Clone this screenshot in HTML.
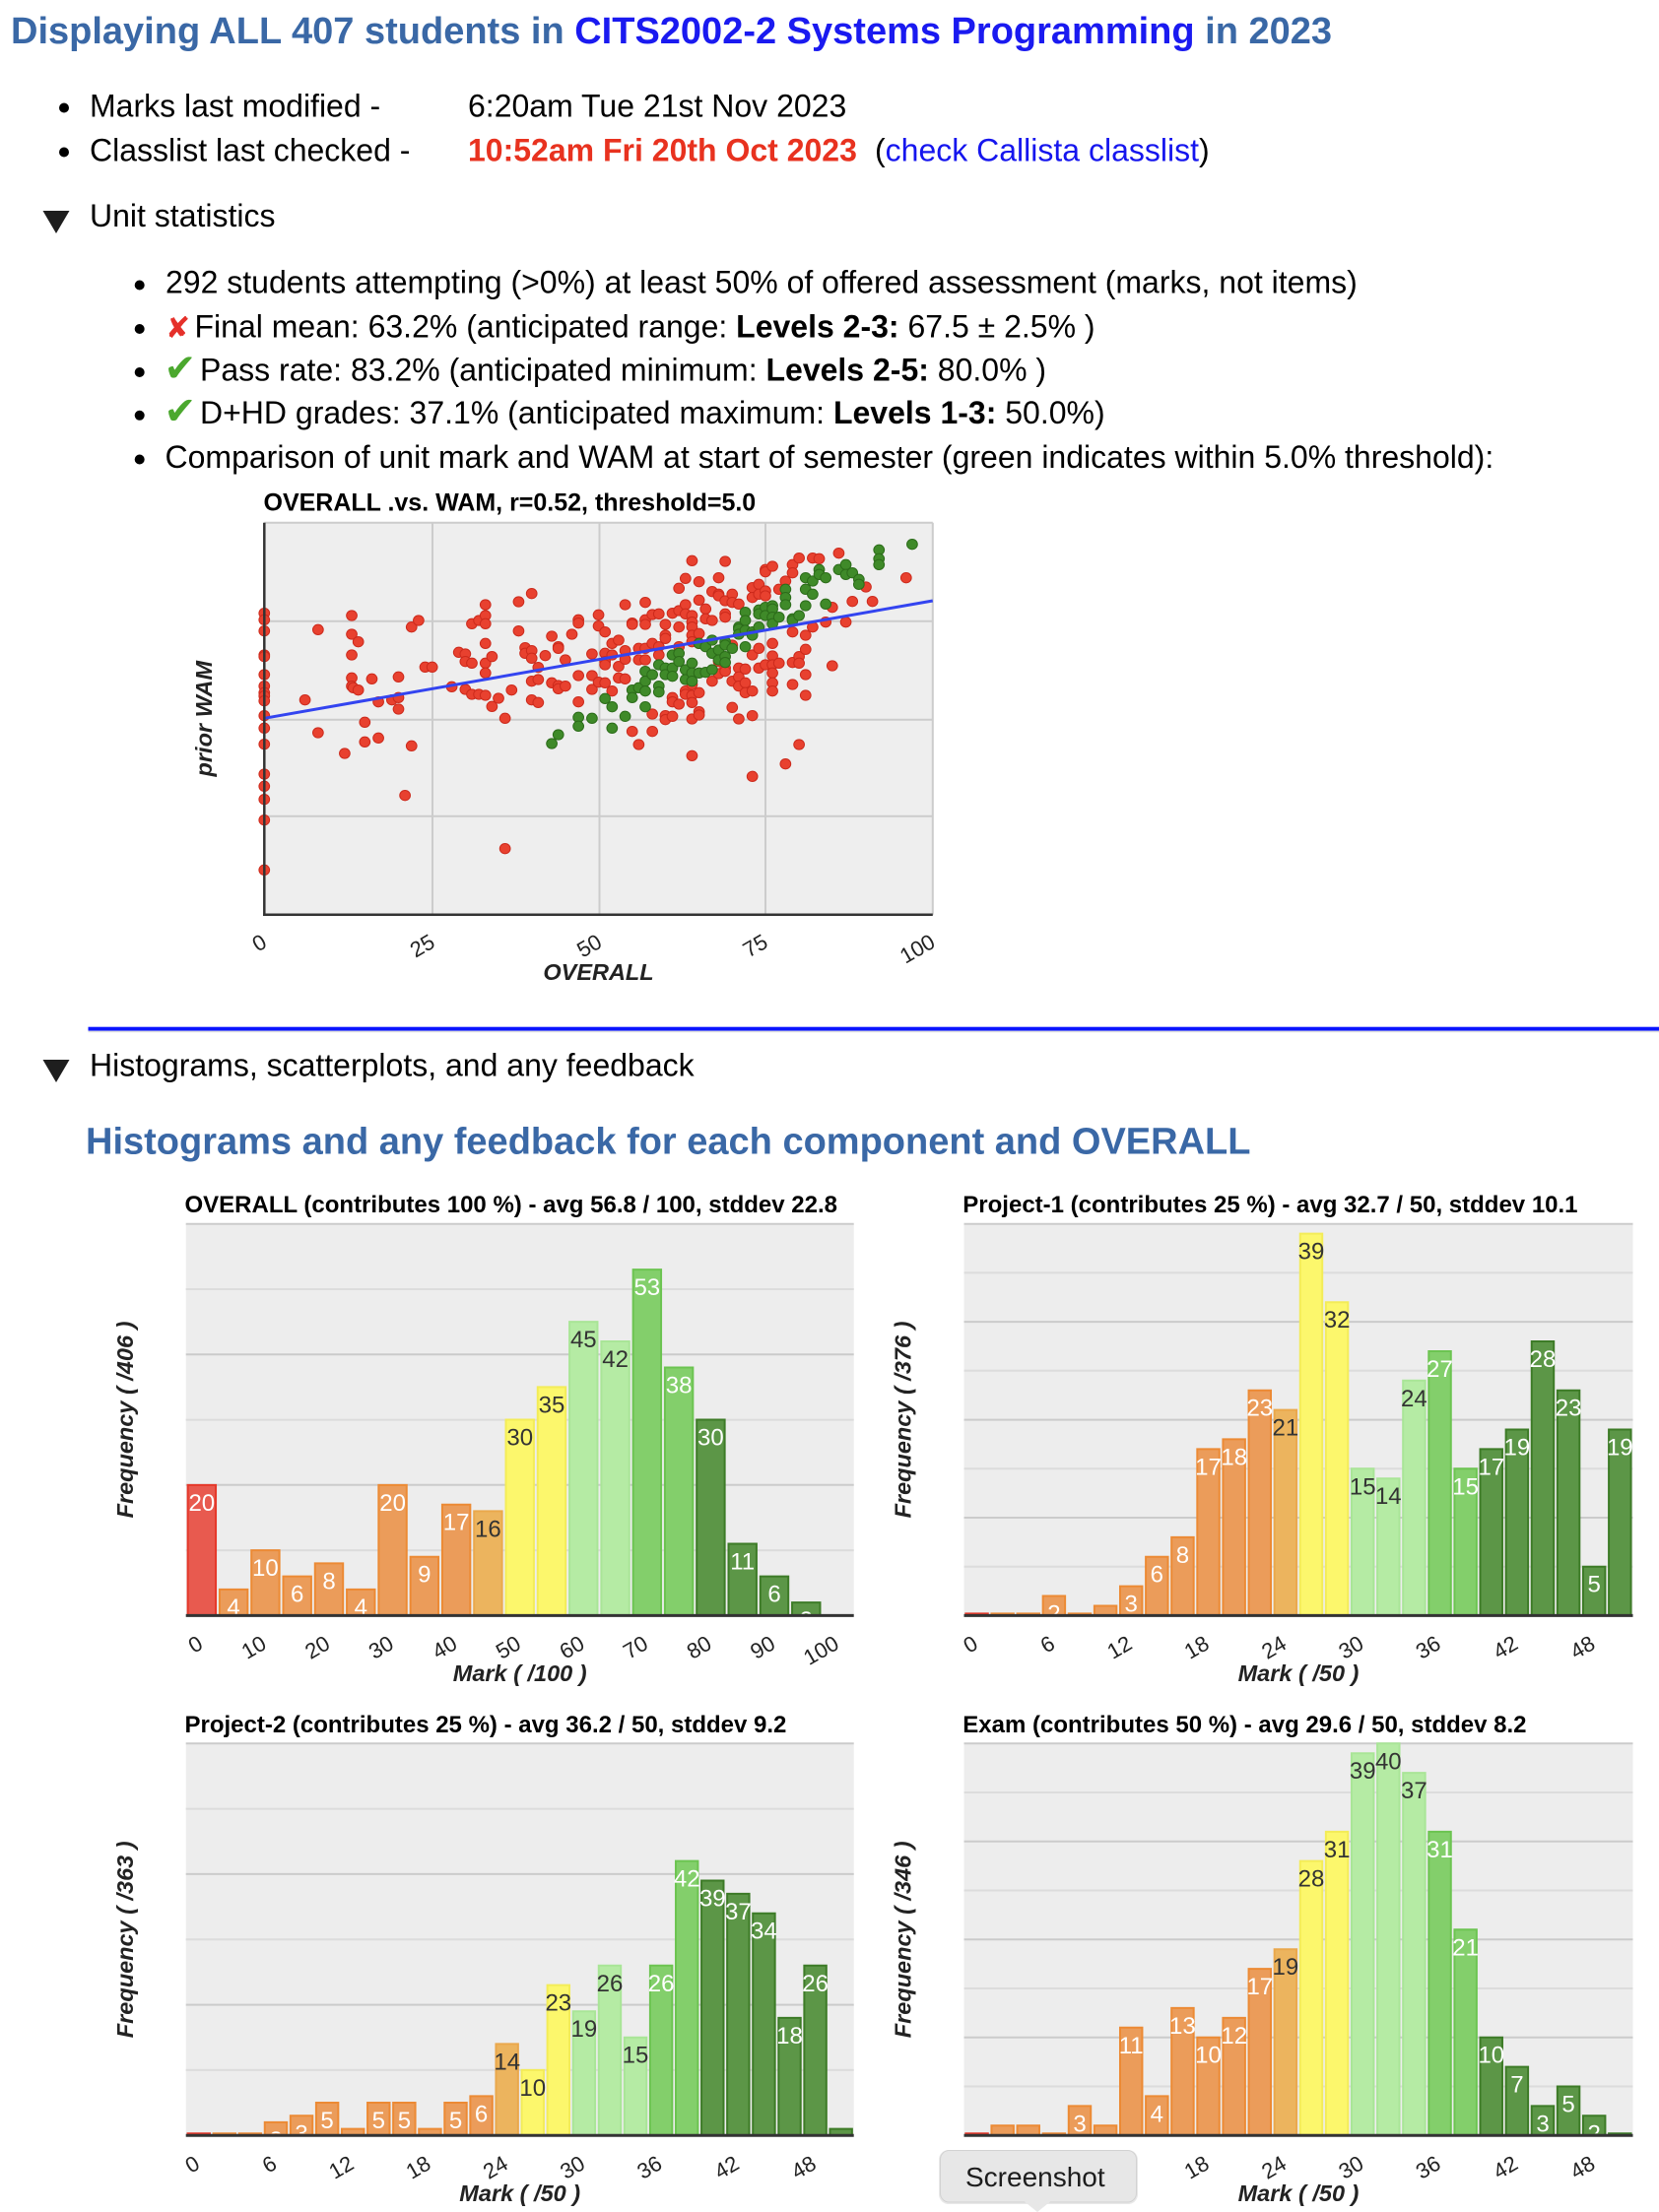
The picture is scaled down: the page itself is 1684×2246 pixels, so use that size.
<!DOCTYPE html>
<html>
<head>
<meta charset="utf-8">
<style>
html,body{margin:0;padding:0;background:#fff;}
svg{display:block;}
text{font-family:"Liberation Sans",Arial,Helvetica,sans-serif;}
.b{vector-effect:non-scaling-stroke;stroke-width:2;}
.bR{fill:#e85a4f;stroke:#e5382a;}
.bO{fill:#eb9c5a;stroke:#ec8a34;}
.bT{fill:#ecb45e;stroke:#eaa84c;}
.bY{fill:#fcf76c;stroke:#f3ec58;}
.bL{fill:#b5eba4;stroke:#a9e597;}
.bM{fill:#83cf6b;stroke:#6cc451;}
.bD{fill:#5c9647;stroke:#3d7b27;}
.lw{fill:#fff;font-size:24px;text-anchor:middle;}
.ld{fill:#333;font-size:24px;text-anchor:middle;}
.tk{fill:#222;font-size:22px;text-anchor:end;}
.ax{fill:#222;font-size:23.5px;font-weight:bold;font-style:italic;text-anchor:middle;}
.ct{fill:#000;font-size:24px;font-weight:bold;}
.gM{stroke:#cbcbcb;stroke-width:2;}
.gm{stroke:#dcdcdc;stroke-width:2;}
.r{fill:#e8412f;stroke:#cc2a1c;stroke-width:1;vector-effect:non-scaling-stroke;}
.g{fill:#3f8a29;stroke:#2c6c1a;stroke-width:1;vector-effect:non-scaling-stroke;}
.body{font-size:32px;fill:#000;}
.ico{font-family:"DejaVu Sans",sans-serif;}
</style>
</head>
<body>
<svg width="1684" height="2246" viewBox="0 0 1684 2246" xmlns="http://www.w3.org/2000/svg">
<defs>
<clipPath id="c1"><rect x="188.7" y="1242.7" width="678" height="396"/></clipPath>
<clipPath id="c2"><rect x="978.5" y="1242.7" width="679" height="396"/></clipPath>
<clipPath id="c3"><rect x="188.7" y="1770.3" width="678" height="396"/></clipPath>
<clipPath id="c4"><rect x="978.5" y="1770.3" width="679" height="396"/></clipPath>
</defs>

<!-- Title -->
<text x="11" y="44" style="font-size:38px;font-weight:bold;fill:#3a68a6">Displaying ALL 407 students in <tspan fill="#1a1af0">CITS2002-2 Systems Programming</tspan> in 2023</text>

<!-- bullets -->
<circle cx="65" cy="109.5" r="5" fill="#000"/>
<circle cx="65" cy="154.5" r="5" fill="#000"/>
<text class="body" x="91" y="118.3">Marks last modified -</text>
<text class="body" x="475" y="118.3">6:20am Tue 21st Nov 2023</text>
<text class="body" x="91" y="163.3">Classlist last checked -</text>
<text class="body" x="475" y="163.3" style="font-weight:bold;fill:#e8321f">10:52am Fri 20th Oct 2023</text>
<text class="body" x="888" y="163.3">(<tspan fill="#1515ee">check Callista classlist</tspan>)</text>

<polygon points="43.5,214 70.5,214 57,237" fill="#1e1e1e"/>
<text class="body" x="91" y="230">Unit statistics</text>

<circle cx="141.7" cy="289.5" r="5" fill="#000"/>
<circle cx="141.7" cy="334" r="5" fill="#000"/>
<circle cx="141.7" cy="378" r="5" fill="#000"/>
<circle cx="141.7" cy="421.8" r="5" fill="#000"/>
<circle cx="141.7" cy="466.5" r="5" fill="#000"/>
<text class="body" x="168" y="297.7">292 students attempting (&gt;0%) at least 50% of offered assessment (marks, not items)</text>
<text class="ico" x="168" y="343" fill="#e5302a" style="font-size:30px">✘</text>
<text class="body" x="197.5" y="342.7">Final mean: 63.2% (anticipated range: <tspan font-weight="bold">Levels 2-3:</tspan> 67.5 ± 2.5% )</text>
<text class="ico" x="166.5" y="387" fill="#4ba82e" style="font-size:39px">✔</text>
<text class="body" x="203" y="386.7">Pass rate: 83.2% (anticipated minimum: <tspan font-weight="bold">Levels 2-5:</tspan> 80.0% )</text>
<text class="ico" x="166.5" y="430.3" fill="#4ba82e" style="font-size:39px">✔</text>
<text class="body" x="203" y="430">D+HD grades: 37.1% (anticipated maximum: <tspan font-weight="bold">Levels 1-3:</tspan> 50.0%)</text>
<text class="body" x="167.5" y="475">Comparison of unit mark and WAM at start of semester (green indicates within 5.0% threshold):</text>

<!-- Scatter -->
<text x="267.5" y="518.5" style="font-size:25px;font-weight:bold;fill:#000">OVERALL .vs. WAM, r=0.52, threshold=5.0</text>
<rect x="268.3" y="530.7" width="678.5" height="398" fill="#eeeeee"/>
<g stroke="#cccccc" stroke-width="2">
<line x1="268.3" y1="530.7" x2="946.8" y2="530.7"/>
<line x1="268.3" y1="630.7" x2="946.8" y2="630.7"/>
<line x1="268.3" y1="730.7" x2="946.8" y2="730.7"/>
<line x1="268.3" y1="828.7" x2="946.8" y2="828.7"/>
<line x1="439" y1="530.7" x2="439" y2="928.7"/>
<line x1="608.5" y1="530.7" x2="608.5" y2="928.7"/>
<line x1="777" y1="530.7" x2="777" y2="928.7"/>
<line x1="946.8" y1="530.7" x2="946.8" y2="928.7"/>
</g>
<svg x="180" y="490" width="800" height="520" viewBox="0 0 1568 1560" preserveAspectRatio="none" overflow="visible">
<g>
<ellipse class="r" cx="173" cy="398" rx="10.5" ry="15.5"/><ellipse class="r" cx="173" cy="418" rx="10.5" ry="15.5"/><ellipse class="r" cx="173" cy="452" rx="10.5" ry="15.5"/><ellipse class="r" cx="173" cy="525" rx="10.5" ry="15.5"/><ellipse class="r" cx="173" cy="530" rx="10.5" ry="15.5"/><ellipse class="r" cx="173" cy="585" rx="10.5" ry="15.5"/><ellipse class="r" cx="173" cy="620" rx="10.5" ry="15.5"/><ellipse class="r" cx="173" cy="640" rx="10.5" ry="15.5"/><ellipse class="r" cx="173" cy="650" rx="10.5" ry="15.5"/><ellipse class="r" cx="173" cy="665" rx="10.5" ry="15.5"/><ellipse class="r" cx="173" cy="710" rx="10.5" ry="15.5"/><ellipse class="r" cx="173" cy="748" rx="10.5" ry="15.5"/><ellipse class="r" cx="173" cy="797" rx="10.5" ry="15.5"/><ellipse class="r" cx="173" cy="888" rx="10.5" ry="15.5"/><ellipse class="r" cx="173" cy="925" rx="10.5" ry="15.5"/><ellipse class="r" cx="173" cy="965" rx="10.5" ry="15.5"/><ellipse class="r" cx="173" cy="1028" rx="10.5" ry="15.5"/><ellipse class="r" cx="173" cy="1180" rx="10.5" ry="15.5"/>
<ellipse class="r" cx="254" cy="662" rx="10.5" ry="15.5"/><ellipse class="r" cx="280" cy="448" rx="10.5" ry="15.5"/><ellipse class="r" cx="280" cy="762" rx="10.5" ry="15.5"/><ellipse class="r" cx="333" cy="825" rx="10.5" ry="15.5"/>
<ellipse class="r" cx="347" cy="405" rx="10.5" ry="15.5"/><ellipse class="r" cx="347" cy="462" rx="10.5" ry="15.5"/><ellipse class="r" cx="347" cy="525" rx="10.5" ry="15.5"/><ellipse class="r" cx="347" cy="595" rx="10.5" ry="15.5"/><ellipse class="r" cx="347" cy="620" rx="10.5" ry="15.5"/><ellipse class="r" cx="350" cy="625" rx="10.5" ry="15.5"/>
<ellipse class="r" cx="360" cy="485" rx="10.5" ry="15.5"/><ellipse class="r" cx="360" cy="632" rx="10.5" ry="15.5"/><ellipse class="r" cx="373" cy="730" rx="10.5" ry="15.5"/><ellipse class="r" cx="373" cy="790" rx="10.5" ry="15.5"/><ellipse class="r" cx="387" cy="598" rx="10.5" ry="15.5"/><ellipse class="r" cx="400" cy="668" rx="10.5" ry="15.5"/><ellipse class="r" cx="400" cy="778" rx="10.5" ry="15.5"/><ellipse class="r" cx="427" cy="662" rx="10.5" ry="15.5"/>
<ellipse class="r" cx="440" cy="592" rx="10.5" ry="15.5"/><ellipse class="r" cx="440" cy="655" rx="10.5" ry="15.5"/><ellipse class="r" cx="440" cy="690" rx="10.5" ry="15.5"/><ellipse class="r" cx="453" cy="953" rx="10.5" ry="15.5"/><ellipse class="r" cx="466" cy="440" rx="10.5" ry="15.5"/><ellipse class="r" cx="466" cy="802" rx="10.5" ry="15.5"/><ellipse class="r" cx="480" cy="420" rx="10.5" ry="15.5"/><ellipse class="r" cx="493" cy="562" rx="10.5" ry="15.5"/><ellipse class="r" cx="507" cy="562" rx="10.5" ry="15.5"/>
<ellipse class="r" cx="546" cy="622" rx="10.5" ry="15.5"/><ellipse class="r" cx="560" cy="517" rx="10.5" ry="15.5"/><ellipse class="r" cx="573" cy="522" rx="10.5" ry="15.5"/><ellipse class="r" cx="573" cy="545" rx="10.5" ry="15.5"/><ellipse class="r" cx="573" cy="630" rx="10.5" ry="15.5"/><ellipse class="r" cx="586" cy="430" rx="10.5" ry="15.5"/><ellipse class="r" cx="586" cy="550" rx="10.5" ry="15.5"/><ellipse class="r" cx="586" cy="645" rx="10.5" ry="15.5"/><ellipse class="r" cx="600" cy="420" rx="10.5" ry="15.5"/><ellipse class="r" cx="600" cy="645" rx="10.5" ry="15.5"/>
<ellipse class="r" cx="613" cy="372" rx="10.5" ry="15.5"/><ellipse class="r" cx="613" cy="405" rx="10.5" ry="15.5"/><ellipse class="r" cx="613" cy="430" rx="10.5" ry="15.5"/><ellipse class="r" cx="613" cy="490" rx="10.5" ry="15.5"/><ellipse class="r" cx="613" cy="550" rx="10.5" ry="15.5"/><ellipse class="r" cx="613" cy="580" rx="10.5" ry="15.5"/><ellipse class="r" cx="613" cy="648" rx="10.5" ry="15.5"/>
<ellipse class="r" cx="626" cy="530" rx="10.5" ry="15.5"/><ellipse class="r" cx="626" cy="682" rx="10.5" ry="15.5"/><ellipse class="r" cx="639" cy="657" rx="10.5" ry="15.5"/><ellipse class="r" cx="652" cy="718" rx="10.5" ry="15.5"/><ellipse class="r" cx="652" cy="1115" rx="10.5" ry="15.5"/><ellipse class="r" cx="665" cy="632" rx="10.5" ry="15.5"/><ellipse class="r" cx="679" cy="363" rx="10.5" ry="15.5"/><ellipse class="r" cx="679" cy="452" rx="10.5" ry="15.5"/>
<ellipse class="r" cx="692" cy="503" rx="10.5" ry="15.5"/><ellipse class="r" cx="692" cy="520" rx="10.5" ry="15.5"/><ellipse class="r" cx="705" cy="338" rx="10.5" ry="15.5"/><ellipse class="r" cx="705" cy="512" rx="10.5" ry="15.5"/><ellipse class="r" cx="705" cy="535" rx="10.5" ry="15.5"/><ellipse class="r" cx="705" cy="605" rx="10.5" ry="15.5"/><ellipse class="r" cx="705" cy="662" rx="10.5" ry="15.5"/>
<ellipse class="r" cx="718" cy="563" rx="10.5" ry="15.5"/><ellipse class="r" cx="718" cy="600" rx="10.5" ry="15.5"/><ellipse class="r" cx="718" cy="670" rx="10.5" ry="15.5"/><ellipse class="r" cx="732" cy="527" rx="10.5" ry="15.5"/><ellipse class="r" cx="745" cy="468" rx="10.5" ry="15.5"/><ellipse class="r" cx="745" cy="610" rx="10.5" ry="15.5"/>
<ellipse class="r" cx="758" cy="500" rx="10.5" ry="15.5"/><ellipse class="r" cx="758" cy="505" rx="10.5" ry="15.5"/><ellipse class="r" cx="758" cy="618" rx="10.5" ry="15.5"/><ellipse class="r" cx="758" cy="628" rx="10.5" ry="15.5"/><ellipse class="r" cx="772" cy="540" rx="10.5" ry="15.5"/><ellipse class="r" cx="772" cy="620" rx="10.5" ry="15.5"/><ellipse class="r" cx="785" cy="462" rx="10.5" ry="15.5"/>
<ellipse class="r" cx="798" cy="418" rx="10.5" ry="15.5"/><ellipse class="r" cx="798" cy="428" rx="10.5" ry="15.5"/><ellipse class="r" cx="798" cy="588" rx="10.5" ry="15.5"/><ellipse class="r" cx="798" cy="668" rx="10.5" ry="15.5"/>
<ellipse class="r" cx="825" cy="522" rx="10.5" ry="15.5"/><ellipse class="r" cx="825" cy="588" rx="10.5" ry="15.5"/><ellipse class="r" cx="825" cy="630" rx="10.5" ry="15.5"/><ellipse class="r" cx="838" cy="403" rx="10.5" ry="15.5"/><ellipse class="r" cx="838" cy="437" rx="10.5" ry="15.5"/><ellipse class="r" cx="838" cy="608" rx="10.5" ry="15.5"/>
<ellipse class="r" cx="851" cy="455" rx="10.5" ry="15.5"/><ellipse class="r" cx="851" cy="520" rx="10.5" ry="15.5"/><ellipse class="r" cx="851" cy="545" rx="10.5" ry="15.5"/><ellipse class="r" cx="851" cy="555" rx="10.5" ry="15.5"/><ellipse class="r" cx="851" cy="610" rx="10.5" ry="15.5"/>
<ellipse class="r" cx="865" cy="490" rx="10.5" ry="15.5"/><ellipse class="r" cx="865" cy="525" rx="10.5" ry="15.5"/><ellipse class="r" cx="865" cy="635" rx="10.5" ry="15.5"/><ellipse class="r" cx="878" cy="480" rx="10.5" ry="15.5"/><ellipse class="r" cx="878" cy="560" rx="10.5" ry="15.5"/><ellipse class="r" cx="878" cy="595" rx="10.5" ry="15.5"/>
<ellipse class="r" cx="891" cy="372" rx="10.5" ry="15.5"/><ellipse class="r" cx="891" cy="512" rx="10.5" ry="15.5"/><ellipse class="r" cx="891" cy="538" rx="10.5" ry="15.5"/><ellipse class="r" cx="891" cy="598" rx="10.5" ry="15.5"/>
<ellipse class="r" cx="905" cy="428" rx="10.5" ry="15.5"/><ellipse class="r" cx="905" cy="432" rx="10.5" ry="15.5"/><ellipse class="r" cx="905" cy="758" rx="10.5" ry="15.5"/><ellipse class="r" cx="918" cy="505" rx="10.5" ry="15.5"/><ellipse class="r" cx="918" cy="540" rx="10.5" ry="15.5"/><ellipse class="r" cx="918" cy="798" rx="10.5" ry="15.5"/>
<ellipse class="r" cx="931" cy="365" rx="10.5" ry="15.5"/><ellipse class="r" cx="931" cy="418" rx="10.5" ry="15.5"/><ellipse class="r" cx="931" cy="432" rx="10.5" ry="15.5"/><ellipse class="r" cx="931" cy="505" rx="10.5" ry="15.5"/><ellipse class="r" cx="931" cy="540" rx="10.5" ry="15.5"/>
<ellipse class="r" cx="945" cy="402" rx="10.5" ry="15.5"/><ellipse class="r" cx="945" cy="490" rx="10.5" ry="15.5"/><ellipse class="r" cx="945" cy="705" rx="10.5" ry="15.5"/><ellipse class="r" cx="945" cy="758" rx="10.5" ry="15.5"/>
<ellipse class="r" cx="958" cy="400" rx="10.5" ry="15.5"/><ellipse class="r" cx="958" cy="500" rx="10.5" ry="15.5"/><ellipse class="r" cx="958" cy="525" rx="10.5" ry="15.5"/>
<ellipse class="r" cx="971" cy="432" rx="10.5" ry="15.5"/><ellipse class="r" cx="971" cy="465" rx="10.5" ry="15.5"/><ellipse class="r" cx="971" cy="475" rx="10.5" ry="15.5"/><ellipse class="r" cx="971" cy="710" rx="10.5" ry="15.5"/><ellipse class="r" cx="971" cy="722" rx="10.5" ry="15.5"/>
<ellipse class="r" cx="985" cy="398" rx="10.5" ry="15.5"/><ellipse class="r" cx="985" cy="655" rx="10.5" ry="15.5"/><ellipse class="r" cx="985" cy="668" rx="10.5" ry="15.5"/><ellipse class="r" cx="985" cy="712" rx="10.5" ry="15.5"/>
<ellipse class="r" cx="998" cy="322" rx="10.5" ry="15.5"/><ellipse class="r" cx="998" cy="390" rx="10.5" ry="15.5"/><ellipse class="r" cx="998" cy="440" rx="10.5" ry="15.5"/><ellipse class="r" cx="998" cy="500" rx="10.5" ry="15.5"/><ellipse class="r" cx="998" cy="675" rx="10.5" ry="15.5"/>
<ellipse class="r" cx="1011" cy="292" rx="10.5" ry="15.5"/><ellipse class="r" cx="1011" cy="372" rx="10.5" ry="15.5"/><ellipse class="r" cx="1011" cy="400" rx="10.5" ry="15.5"/><ellipse class="r" cx="1011" cy="635" rx="10.5" ry="15.5"/><ellipse class="r" cx="1011" cy="645" rx="10.5" ry="15.5"/>
<ellipse class="r" cx="1024" cy="238" rx="10.5" ry="15.5"/><ellipse class="r" cx="1024" cy="405" rx="10.5" ry="15.5"/><ellipse class="r" cx="1024" cy="425" rx="10.5" ry="15.5"/><ellipse class="r" cx="1024" cy="440" rx="10.5" ry="15.5"/><ellipse class="r" cx="1024" cy="465" rx="10.5" ry="15.5"/><ellipse class="r" cx="1024" cy="485" rx="10.5" ry="15.5"/><ellipse class="r" cx="1024" cy="615" rx="10.5" ry="15.5"/><ellipse class="r" cx="1024" cy="648" rx="10.5" ry="15.5"/><ellipse class="r" cx="1024" cy="670" rx="10.5" ry="15.5"/><ellipse class="r" cx="1024" cy="720" rx="10.5" ry="15.5"/><ellipse class="r" cx="1024" cy="832" rx="10.5" ry="15.5"/>
<ellipse class="r" cx="1038" cy="302" rx="10.5" ry="15.5"/><ellipse class="r" cx="1038" cy="358" rx="10.5" ry="15.5"/><ellipse class="r" cx="1038" cy="460" rx="10.5" ry="15.5"/><ellipse class="r" cx="1038" cy="490" rx="10.5" ry="15.5"/><ellipse class="r" cx="1038" cy="640" rx="10.5" ry="15.5"/><ellipse class="r" cx="1038" cy="698" rx="10.5" ry="15.5"/><ellipse class="r" cx="1038" cy="708" rx="10.5" ry="15.5"/>
<ellipse class="r" cx="1051" cy="385" rx="10.5" ry="15.5"/><ellipse class="r" cx="1051" cy="415" rx="10.5" ry="15.5"/><ellipse class="r" cx="1064" cy="332" rx="10.5" ry="15.5"/><ellipse class="r" cx="1064" cy="420" rx="10.5" ry="15.5"/><ellipse class="r" cx="1064" cy="605" rx="10.5" ry="15.5"/>
<ellipse class="r" cx="1077" cy="290" rx="10.5" ry="15.5"/><ellipse class="r" cx="1077" cy="340" rx="10.5" ry="15.5"/><ellipse class="r" cx="1077" cy="345" rx="10.5" ry="15.5"/><ellipse class="r" cx="1077" cy="545" rx="10.5" ry="15.5"/><ellipse class="r" cx="1077" cy="582" rx="10.5" ry="15.5"/>
<ellipse class="r" cx="1090" cy="240" rx="10.5" ry="15.5"/><ellipse class="r" cx="1090" cy="360" rx="10.5" ry="15.5"/><ellipse class="r" cx="1090" cy="400" rx="10.5" ry="15.5"/><ellipse class="r" cx="1090" cy="410" rx="10.5" ry="15.5"/><ellipse class="r" cx="1090" cy="565" rx="10.5" ry="15.5"/><ellipse class="r" cx="1090" cy="575" rx="10.5" ry="15.5"/>
<ellipse class="r" cx="1104" cy="340" rx="10.5" ry="15.5"/><ellipse class="r" cx="1104" cy="365" rx="10.5" ry="15.5"/><ellipse class="r" cx="1104" cy="495" rx="10.5" ry="15.5"/><ellipse class="r" cx="1104" cy="605" rx="10.5" ry="15.5"/><ellipse class="r" cx="1104" cy="685" rx="10.5" ry="15.5"/>
<ellipse class="r" cx="1117" cy="370" rx="10.5" ry="15.5"/><ellipse class="r" cx="1117" cy="565" rx="10.5" ry="15.5"/><ellipse class="r" cx="1117" cy="592" rx="10.5" ry="15.5"/><ellipse class="r" cx="1117" cy="620" rx="10.5" ry="15.5"/><ellipse class="r" cx="1117" cy="720" rx="10.5" ry="15.5"/>
<ellipse class="r" cx="1130" cy="568" rx="10.5" ry="15.5"/><ellipse class="r" cx="1130" cy="610" rx="10.5" ry="15.5"/><ellipse class="r" cx="1130" cy="640" rx="10.5" ry="15.5"/>
<ellipse class="r" cx="1144" cy="320" rx="10.5" ry="15.5"/><ellipse class="r" cx="1144" cy="350" rx="10.5" ry="15.5"/><ellipse class="r" cx="1144" cy="525" rx="10.5" ry="15.5"/><ellipse class="r" cx="1144" cy="635" rx="10.5" ry="15.5"/><ellipse class="r" cx="1144" cy="710" rx="10.5" ry="15.5"/><ellipse class="r" cx="1144" cy="895" rx="10.5" ry="15.5"/>
<ellipse class="r" cx="1157" cy="310" rx="10.5" ry="15.5"/><ellipse class="r" cx="1157" cy="340" rx="10.5" ry="15.5"/><ellipse class="r" cx="1157" cy="505" rx="10.5" ry="15.5"/><ellipse class="r" cx="1157" cy="565" rx="10.5" ry="15.5"/>
<ellipse class="r" cx="1170" cy="265" rx="10.5" ry="15.5"/><ellipse class="r" cx="1170" cy="272" rx="10.5" ry="15.5"/><ellipse class="r" cx="1170" cy="330" rx="10.5" ry="15.5"/><ellipse class="r" cx="1170" cy="345" rx="10.5" ry="15.5"/><ellipse class="r" cx="1170" cy="555" rx="10.5" ry="15.5"/>
<ellipse class="r" cx="1184" cy="255" rx="10.5" ry="15.5"/><ellipse class="r" cx="1184" cy="490" rx="10.5" ry="15.5"/><ellipse class="r" cx="1184" cy="528" rx="10.5" ry="15.5"/><ellipse class="r" cx="1184" cy="555" rx="10.5" ry="15.5"/><ellipse class="r" cx="1184" cy="580" rx="10.5" ry="15.5"/><ellipse class="r" cx="1184" cy="610" rx="10.5" ry="15.5"/><ellipse class="r" cx="1184" cy="635" rx="10.5" ry="15.5"/>
<ellipse class="r" cx="1197" cy="325" rx="10.5" ry="15.5"/><ellipse class="r" cx="1197" cy="550" rx="10.5" ry="15.5"/><ellipse class="r" cx="1210" cy="300" rx="10.5" ry="15.5"/><ellipse class="r" cx="1210" cy="857" rx="10.5" ry="15.5"/>
<ellipse class="r" cx="1224" cy="250" rx="10.5" ry="15.5"/><ellipse class="r" cx="1224" cy="275" rx="10.5" ry="15.5"/><ellipse class="r" cx="1224" cy="455" rx="10.5" ry="15.5"/><ellipse class="r" cx="1224" cy="548" rx="10.5" ry="15.5"/><ellipse class="r" cx="1224" cy="615" rx="10.5" ry="15.5"/>
<ellipse class="r" cx="1237" cy="230" rx="10.5" ry="15.5"/><ellipse class="r" cx="1237" cy="530" rx="10.5" ry="15.5"/><ellipse class="r" cx="1237" cy="550" rx="10.5" ry="15.5"/><ellipse class="r" cx="1237" cy="798" rx="10.5" ry="15.5"/>
<ellipse class="r" cx="1250" cy="465" rx="10.5" ry="15.5"/><ellipse class="r" cx="1250" cy="508" rx="10.5" ry="15.5"/><ellipse class="r" cx="1250" cy="585" rx="10.5" ry="15.5"/><ellipse class="r" cx="1250" cy="648" rx="10.5" ry="15.5"/>
<ellipse class="r" cx="1264" cy="230" rx="10.5" ry="15.5"/><ellipse class="r" cx="1264" cy="440" rx="10.5" ry="15.5"/><ellipse class="r" cx="1277" cy="232" rx="10.5" ry="15.5"/><ellipse class="r" cx="1290" cy="425" rx="10.5" ry="15.5"/><ellipse class="r" cx="1303" cy="380" rx="10.5" ry="15.5"/><ellipse class="r" cx="1303" cy="558" rx="10.5" ry="15.5"/><ellipse class="r" cx="1316" cy="215" rx="10.5" ry="15.5"/><ellipse class="r" cx="1330" cy="425" rx="10.5" ry="15.5"/><ellipse class="r" cx="1343" cy="362" rx="10.5" ry="15.5"/><ellipse class="r" cx="1370" cy="318" rx="10.5" ry="15.5"/><ellipse class="r" cx="1383" cy="362" rx="10.5" ry="15.5"/><ellipse class="r" cx="1450" cy="290" rx="10.5" ry="15.5"/>
</g>
<g>
<ellipse class="g" cx="745" cy="795" rx="10.5" ry="15.5"/><ellipse class="g" cx="758" cy="768" rx="10.5" ry="15.5"/><ellipse class="g" cx="798" cy="715" rx="10.5" ry="15.5"/><ellipse class="g" cx="798" cy="742" rx="10.5" ry="15.5"/><ellipse class="g" cx="825" cy="718" rx="10.5" ry="15.5"/><ellipse class="g" cx="851" cy="658" rx="10.5" ry="15.5"/><ellipse class="g" cx="865" cy="683" rx="10.5" ry="15.5"/><ellipse class="g" cx="865" cy="748" rx="10.5" ry="15.5"/><ellipse class="g" cx="891" cy="712" rx="10.5" ry="15.5"/>
<ellipse class="g" cx="905" cy="632" rx="10.5" ry="15.5"/><ellipse class="g" cx="905" cy="655" rx="10.5" ry="15.5"/><ellipse class="g" cx="918" cy="625" rx="10.5" ry="15.5"/><ellipse class="g" cx="931" cy="575" rx="10.5" ry="15.5"/><ellipse class="g" cx="931" cy="605" rx="10.5" ry="15.5"/><ellipse class="g" cx="931" cy="635" rx="10.5" ry="15.5"/><ellipse class="g" cx="931" cy="683" rx="10.5" ry="15.5"/><ellipse class="g" cx="945" cy="585" rx="10.5" ry="15.5"/>
<ellipse class="g" cx="958" cy="555" rx="10.5" ry="15.5"/><ellipse class="g" cx="958" cy="620" rx="10.5" ry="15.5"/><ellipse class="g" cx="958" cy="638" rx="10.5" ry="15.5"/><ellipse class="g" cx="971" cy="565" rx="10.5" ry="15.5"/><ellipse class="g" cx="971" cy="585" rx="10.5" ry="15.5"/><ellipse class="g" cx="985" cy="525" rx="10.5" ry="15.5"/><ellipse class="g" cx="985" cy="565" rx="10.5" ry="15.5"/><ellipse class="g" cx="985" cy="590" rx="10.5" ry="15.5"/>
<ellipse class="g" cx="998" cy="520" rx="10.5" ry="15.5"/><ellipse class="g" cx="998" cy="545" rx="10.5" ry="15.5"/><ellipse class="g" cx="1011" cy="570" rx="10.5" ry="15.5"/><ellipse class="g" cx="1011" cy="600" rx="10.5" ry="15.5"/><ellipse class="g" cx="1024" cy="550" rx="10.5" ry="15.5"/><ellipse class="g" cx="1024" cy="580" rx="10.5" ry="15.5"/><ellipse class="g" cx="1024" cy="605" rx="10.5" ry="15.5"/>
<ellipse class="g" cx="1038" cy="490" rx="10.5" ry="15.5"/><ellipse class="g" cx="1038" cy="580" rx="10.5" ry="15.5"/><ellipse class="g" cx="1051" cy="500" rx="10.5" ry="15.5"/><ellipse class="g" cx="1051" cy="578" rx="10.5" ry="15.5"/><ellipse class="g" cx="1064" cy="480" rx="10.5" ry="15.5"/><ellipse class="g" cx="1064" cy="520" rx="10.5" ry="15.5"/><ellipse class="g" cx="1064" cy="570" rx="10.5" ry="15.5"/>
<ellipse class="g" cx="1077" cy="510" rx="10.5" ry="15.5"/><ellipse class="g" cx="1077" cy="540" rx="10.5" ry="15.5"/><ellipse class="g" cx="1090" cy="485" rx="10.5" ry="15.5"/><ellipse class="g" cx="1090" cy="495" rx="10.5" ry="15.5"/><ellipse class="g" cx="1090" cy="530" rx="10.5" ry="15.5"/><ellipse class="g" cx="1090" cy="548" rx="10.5" ry="15.5"/><ellipse class="g" cx="1104" cy="505" rx="10.5" ry="15.5"/>
<ellipse class="g" cx="1117" cy="440" rx="10.5" ry="15.5"/><ellipse class="g" cx="1117" cy="446" rx="10.5" ry="15.5"/><ellipse class="g" cx="1117" cy="462" rx="10.5" ry="15.5"/><ellipse class="g" cx="1130" cy="395" rx="10.5" ry="15.5"/><ellipse class="g" cx="1130" cy="420" rx="10.5" ry="15.5"/><ellipse class="g" cx="1130" cy="450" rx="10.5" ry="15.5"/><ellipse class="g" cx="1130" cy="500" rx="10.5" ry="15.5"/>
<ellipse class="g" cx="1144" cy="455" rx="10.5" ry="15.5"/><ellipse class="g" cx="1144" cy="465" rx="10.5" ry="15.5"/><ellipse class="g" cx="1157" cy="388" rx="10.5" ry="15.5"/><ellipse class="g" cx="1157" cy="400" rx="10.5" ry="15.5"/><ellipse class="g" cx="1157" cy="440" rx="10.5" ry="15.5"/><ellipse class="g" cx="1170" cy="380" rx="10.5" ry="15.5"/><ellipse class="g" cx="1170" cy="405" rx="10.5" ry="15.5"/>
<ellipse class="g" cx="1184" cy="375" rx="10.5" ry="15.5"/><ellipse class="g" cx="1184" cy="385" rx="10.5" ry="15.5"/><ellipse class="g" cx="1184" cy="410" rx="10.5" ry="15.5"/><ellipse class="g" cx="1184" cy="430" rx="10.5" ry="15.5"/><ellipse class="g" cx="1197" cy="410" rx="10.5" ry="15.5"/>
<ellipse class="g" cx="1210" cy="325" rx="10.5" ry="15.5"/><ellipse class="g" cx="1210" cy="350" rx="10.5" ry="15.5"/><ellipse class="g" cx="1210" cy="372" rx="10.5" ry="15.5"/><ellipse class="g" cx="1224" cy="415" rx="10.5" ry="15.5"/><ellipse class="g" cx="1224" cy="420" rx="10.5" ry="15.5"/><ellipse class="g" cx="1237" cy="405" rx="10.5" ry="15.5"/>
<ellipse class="g" cx="1250" cy="290" rx="10.5" ry="15.5"/><ellipse class="g" cx="1250" cy="325" rx="10.5" ry="15.5"/><ellipse class="g" cx="1250" cy="375" rx="10.5" ry="15.5"/><ellipse class="g" cx="1264" cy="300" rx="10.5" ry="15.5"/><ellipse class="g" cx="1264" cy="340" rx="10.5" ry="15.5"/><ellipse class="g" cx="1277" cy="265" rx="10.5" ry="15.5"/><ellipse class="g" cx="1277" cy="280" rx="10.5" ry="15.5"/>
<ellipse class="g" cx="1290" cy="290" rx="10.5" ry="15.5"/><ellipse class="g" cx="1290" cy="370" rx="10.5" ry="15.5"/><ellipse class="g" cx="1316" cy="265" rx="10.5" ry="15.5"/><ellipse class="g" cx="1330" cy="250" rx="10.5" ry="15.5"/><ellipse class="g" cx="1330" cy="280" rx="10.5" ry="15.5"/><ellipse class="g" cx="1343" cy="275" rx="10.5" ry="15.5"/><ellipse class="g" cx="1356" cy="295" rx="10.5" ry="15.5"/><ellipse class="g" cx="1356" cy="310" rx="10.5" ry="15.5"/>
<ellipse class="g" cx="1396" cy="205" rx="10.5" ry="15.5"/><ellipse class="g" cx="1396" cy="232" rx="10.5" ry="15.5"/><ellipse class="g" cx="1396" cy="250" rx="10.5" ry="15.5"/><ellipse class="g" cx="1462" cy="188" rx="10.5" ry="15.5"/>
</g>
</svg>
<line x1="268.3" y1="729.3" x2="946.8" y2="610" stroke="#3344f0" stroke-width="3"/>
<line x1="268.3" y1="530.7" x2="268.3" y2="929.5" stroke="#333" stroke-width="2.5"/>
<line x1="267" y1="928.7" x2="946.8" y2="928.7" stroke="#333" stroke-width="2.5"/>
<text class="tk" x="272.3" y="960.7" transform="rotate(-30 272.3 960.7)">0</text>
<text class="tk" x="443" y="960.7" transform="rotate(-30 443 960.7)">25</text>
<text class="tk" x="612.5" y="960.7" transform="rotate(-30 612.5 960.7)">50</text>
<text class="tk" x="781" y="960.7" transform="rotate(-30 781 960.7)">75</text>
<text class="tk" x="950.8" y="960.7" transform="rotate(-30 950.8 960.7)">100</text>
<text class="ax" x="607.5" y="995">OVERALL</text>
<text class="ax" x="215" y="729.7" transform="rotate(-90 215 729.7)">prior WAM</text>

<!-- rule -->
<rect x="89.5" y="1042.7" width="1594.5" height="4" fill="#0a14ff"/>
<rect x="89.5" y="1046.7" width="1594.5" height="1.5" fill="#dedede"/>
<polygon points="43.5,1076 70.5,1076 57,1099" fill="#1e1e1e"/>
<text class="body" x="91" y="1092.7">Histograms, scatterplots, and any feedback</text>
<text x="87" y="1171.7" style="font-size:38px;font-weight:bold;fill:#3a68a6">Histograms and any feedback for each component and OVERALL</text>

<!-- ============ Chart 1 ============ -->
<text class="ct" x="187.5" y="1231">OVERALL (contributes 100 %) - avg 56.8 / 100, stddev 22.8</text>
<rect x="188.7" y="1242.7" width="678" height="397.7" fill="#ededed"/>
<line class="gm" x1="188.7" y1="1574.1" x2="866.7" y2="1574.1"/>
<line class="gM" x1="188.7" y1="1507.8" x2="866.7" y2="1507.8"/>
<line class="gm" x1="188.7" y1="1441.6" x2="866.7" y2="1441.6"/>
<line class="gM" x1="188.7" y1="1375.3" x2="866.7" y2="1375.3"/>
<line class="gm" x1="188.7" y1="1309" x2="866.7" y2="1309"/>
<line class="gM" x1="188.7" y1="1242.7" x2="866.7" y2="1242.7"/>
<g transform="translate(188.7 1640.4) scale(32.286 -6.628)">
<rect class="b bR" x="0.06" y="0" width="0.88" height="20"/>
<rect class="b bO" x="1.06" y="0" width="0.88" height="4"/>
<rect class="b bO" x="2.06" y="0" width="0.88" height="10"/>
<rect class="b bO" x="3.06" y="0" width="0.88" height="6"/>
<rect class="b bO" x="4.06" y="0" width="0.88" height="8"/>
<rect class="b bO" x="5.06" y="0" width="0.88" height="4"/>
<rect class="b bO" x="6.06" y="0" width="0.88" height="20"/>
<rect class="b bO" x="7.06" y="0" width="0.88" height="9"/>
<rect class="b bO" x="8.06" y="0" width="0.88" height="17"/>
<rect class="b bT" x="9.06" y="0" width="0.88" height="16"/>
<rect class="b bY" x="10.06" y="0" width="0.88" height="30"/>
<rect class="b bY" x="11.06" y="0" width="0.88" height="35"/>
<rect class="b bL" x="12.06" y="0" width="0.88" height="45"/>
<rect class="b bL" x="13.06" y="0" width="0.88" height="42"/>
<rect class="b bM" x="14.06" y="0" width="0.88" height="53"/>
<rect class="b bM" x="15.06" y="0" width="0.88" height="38"/>
<rect class="b bD" x="16.06" y="0" width="0.88" height="30"/>
<rect class="b bD" x="17.06" y="0" width="0.88" height="11"/>
<rect class="b bD" x="18.06" y="0" width="0.88" height="6"/>
<rect class="b bD" x="19.06" y="0" width="0.88" height="2"/>
</g>
<g clip-path="url(#c1)">
<text class="lw" x="204.8" y="1533.8">20</text>
<text class="lw" x="237.1" y="1639.9">4</text>
<text class="lw" x="269.4" y="1600.1">10</text>
<text class="lw" x="301.7" y="1626.6">6</text>
<text class="lw" x="334" y="1613.4">8</text>
<text class="lw" x="366.3" y="1639.9">4</text>
<text class="lw" x="398.6" y="1533.8">20</text>
<text class="lw" x="430.8" y="1606.7">9</text>
<text class="lw" x="463.1" y="1553.7">17</text>
<text class="ld" x="495.4" y="1560.3">16</text>
<text class="ld" x="527.7" y="1467.6">30</text>
<text class="ld" x="560" y="1434.4">35</text>
<text class="ld" x="592.3" y="1368.1">45</text>
<text class="ld" x="624.6" y="1388">42</text>
<text class="lw" x="656.8" y="1315.1">53</text>
<text class="lw" x="689.1" y="1414.5">38</text>
<text class="lw" x="721.4" y="1467.6">30</text>
<text class="lw" x="753.7" y="1593.5">11</text>
<text class="lw" x="786" y="1626.6">6</text>
<text class="lw" x="818.3" y="1653.1">2</text>
</g>
<line x1="188.7" y1="1640.4" x2="866.7" y2="1640.4" stroke="#333" stroke-width="3"/>
<text class="tk" x="207.3" y="1673" transform="rotate(-30 207.3 1673)">0</text>
<text class="tk" x="271.9" y="1673" transform="rotate(-30 271.9 1673)">10</text>
<text class="tk" x="336.5" y="1673" transform="rotate(-30 336.5 1673)">20</text>
<text class="tk" x="401.1" y="1673" transform="rotate(-30 401.1 1673)">30</text>
<text class="tk" x="465.6" y="1673" transform="rotate(-30 465.6 1673)">40</text>
<text class="tk" x="530.2" y="1673" transform="rotate(-30 530.2 1673)">50</text>
<text class="tk" x="594.8" y="1673" transform="rotate(-30 594.8 1673)">60</text>
<text class="tk" x="659.4" y="1673" transform="rotate(-30 659.4 1673)">70</text>
<text class="tk" x="723.9" y="1673" transform="rotate(-30 723.9 1673)">80</text>
<text class="tk" x="788.5" y="1673" transform="rotate(-30 788.5 1673)">90</text>
<text class="tk" x="853.1" y="1673" transform="rotate(-30 853.1 1673)">100</text>
<text class="ax" x="527.7" y="1707">Mark ( /100 )</text>
<text class="ax" x="134.9" y="1441.5" transform="rotate(-90 134.9 1441.5)">Frequency ( /406 )</text>

<!-- ============ Chart 2 ============ -->
<text class="ct" x="977.3" y="1231">Project-1 (contributes 25 %) - avg 32.7 / 50, stddev 10.1</text>
<rect x="978.5" y="1242.7" width="679" height="397.7" fill="#ededed"/>
<line class="gm" x1="978.5" y1="1590.7" x2="1657.5" y2="1590.7"/>
<line class="gM" x1="978.5" y1="1541" x2="1657.5" y2="1541"/>
<line class="gm" x1="978.5" y1="1491.3" x2="1657.5" y2="1491.3"/>
<line class="gM" x1="978.5" y1="1441.6" x2="1657.5" y2="1441.6"/>
<line class="gm" x1="978.5" y1="1391.8" x2="1657.5" y2="1391.8"/>
<line class="gM" x1="978.5" y1="1342.1" x2="1657.5" y2="1342.1"/>
<line class="gm" x1="978.5" y1="1292.4" x2="1657.5" y2="1292.4"/>
<line class="gM" x1="978.5" y1="1242.7" x2="1657.5" y2="1242.7"/>
<g transform="translate(978.5 1640.4) scale(26.11 -9.9425)">
<rect class="b bR" x="0.07" y="0" width="0.86" height="0.2"/>
<rect class="b bO" x="1.07" y="0" width="0.86" height="0.2"/>
<rect class="b bO" x="2.07" y="0" width="0.86" height="0.2"/>
<rect class="b bO" x="3.07" y="0" width="0.86" height="2"/>
<rect class="b bO" x="4.07" y="0" width="0.86" height="0.2"/>
<rect class="b bO" x="5.07" y="0" width="0.86" height="1"/>
<rect class="b bO" x="6.07" y="0" width="0.86" height="3"/>
<rect class="b bO" x="7.07" y="0" width="0.86" height="6"/>
<rect class="b bO" x="8.07" y="0" width="0.86" height="8"/>
<rect class="b bO" x="9.07" y="0" width="0.86" height="17"/>
<rect class="b bO" x="10.07" y="0" width="0.86" height="18"/>
<rect class="b bO" x="11.07" y="0" width="0.86" height="23"/>
<rect class="b bT" x="12.07" y="0" width="0.86" height="21"/>
<rect class="b bY" x="13.07" y="0" width="0.86" height="39"/>
<rect class="b bY" x="14.07" y="0" width="0.86" height="32"/>
<rect class="b bL" x="15.07" y="0" width="0.86" height="15"/>
<rect class="b bL" x="16.07" y="0" width="0.86" height="14"/>
<rect class="b bL" x="17.07" y="0" width="0.86" height="24"/>
<rect class="b bM" x="18.07" y="0" width="0.86" height="27"/>
<rect class="b bM" x="19.07" y="0" width="0.86" height="15"/>
<rect class="b bD" x="20.07" y="0" width="0.86" height="17"/>
<rect class="b bD" x="21.07" y="0" width="0.86" height="19"/>
<rect class="b bD" x="22.07" y="0" width="0.86" height="28"/>
<rect class="b bD" x="23.07" y="0" width="0.86" height="23"/>
<rect class="b bD" x="24.07" y="0" width="0.86" height="5"/>
<rect class="b bD" x="25.07" y="0" width="0.86" height="19"/>
</g>
<g clip-path="url(#c2)">
<text class="lw" x="1069.9" y="1646.5">2</text>
<text class="lw" x="1122.1" y="1656.5">1</text>
<text class="lw" x="1148.2" y="1636.6">3</text>
<text class="lw" x="1174.3" y="1606.7">6</text>
<text class="lw" x="1200.4" y="1586.9">8</text>
<text class="lw" x="1226.5" y="1497.4">17</text>
<text class="lw" x="1252.7" y="1487.4">18</text>
<text class="lw" x="1278.8" y="1437.7">23</text>
<text class="ld" x="1304.9" y="1457.6">21</text>
<text class="ld" x="1331" y="1278.6">39</text>
<text class="ld" x="1357.1" y="1348.2">32</text>
<text class="ld" x="1383.2" y="1517.3">15</text>
<text class="ld" x="1409.3" y="1527.2">14</text>
<text class="ld" x="1435.4" y="1427.8">24</text>
<text class="lw" x="1461.5" y="1397.9">27</text>
<text class="lw" x="1487.6" y="1517.3">15</text>
<text class="lw" x="1513.8" y="1497.4">17</text>
<text class="lw" x="1539.9" y="1477.5">19</text>
<text class="lw" x="1566" y="1388">28</text>
<text class="lw" x="1592.1" y="1437.7">23</text>
<text class="lw" x="1618.2" y="1616.7">5</text>
<text class="lw" x="1644.3" y="1477.5">19</text>
</g>
<line x1="978.5" y1="1640.4" x2="1657.5" y2="1640.4" stroke="#333" stroke-width="3"/>
<text class="tk" x="994.1" y="1673" transform="rotate(-30 994.1 1673)">0</text>
<text class="tk" x="1072.4" y="1673" transform="rotate(-30 1072.4 1673)">6</text>
<text class="tk" x="1150.7" y="1673" transform="rotate(-30 1150.7 1673)">12</text>
<text class="tk" x="1229" y="1673" transform="rotate(-30 1229 1673)">18</text>
<text class="tk" x="1307.4" y="1673" transform="rotate(-30 1307.4 1673)">24</text>
<text class="tk" x="1385.7" y="1673" transform="rotate(-30 1385.7 1673)">30</text>
<text class="tk" x="1464" y="1673" transform="rotate(-30 1464 1673)">36</text>
<text class="tk" x="1542.4" y="1673" transform="rotate(-30 1542.4 1673)">42</text>
<text class="tk" x="1620.7" y="1673" transform="rotate(-30 1620.7 1673)">48</text>
<text class="ax" x="1318" y="1707">Mark ( /50 )</text>
<text class="ax" x="924.7" y="1441.5" transform="rotate(-90 924.7 1441.5)">Frequency ( /376 )</text>

<!-- ============ Chart 3 ============ -->
<text class="ct" x="187.5" y="1759">Project-2 (contributes 25 %) - avg 36.2 / 50, stddev 9.2</text>
<rect x="188.7" y="1770.3" width="678" height="397.9" fill="#ededed"/>
<line class="gm" x1="188.7" y1="2101.9" x2="866.7" y2="2101.9"/>
<line class="gM" x1="188.7" y1="2035.6" x2="866.7" y2="2035.6"/>
<line class="gm" x1="188.7" y1="1969.2" x2="866.7" y2="1969.2"/>
<line class="gM" x1="188.7" y1="1902.9" x2="866.7" y2="1902.9"/>
<line class="gm" x1="188.7" y1="1836.6" x2="866.7" y2="1836.6"/>
<line class="gM" x1="188.7" y1="1770.3" x2="866.7" y2="1770.3"/>
<g transform="translate(188.7 2168.2) scale(26.077 -6.632)">
<rect class="b bR" x="0.07" y="0" width="0.86" height="0.3"/>
<rect class="b bO" x="1.07" y="0" width="0.86" height="0.3"/>
<rect class="b bO" x="2.07" y="0" width="0.86" height="0.3"/>
<rect class="b bO" x="3.07" y="0" width="0.86" height="2"/>
<rect class="b bO" x="4.07" y="0" width="0.86" height="3"/>
<rect class="b bO" x="5.07" y="0" width="0.86" height="5"/>
<rect class="b bO" x="6.07" y="0" width="0.86" height="1"/>
<rect class="b bO" x="7.07" y="0" width="0.86" height="5"/>
<rect class="b bO" x="8.07" y="0" width="0.86" height="5"/>
<rect class="b bO" x="9.07" y="0" width="0.86" height="1"/>
<rect class="b bO" x="10.07" y="0" width="0.86" height="5"/>
<rect class="b bO" x="11.07" y="0" width="0.86" height="6"/>
<rect class="b bT" x="12.07" y="0" width="0.86" height="14"/>
<rect class="b bY" x="13.07" y="0" width="0.86" height="10"/>
<rect class="b bY" x="14.07" y="0" width="0.86" height="23"/>
<rect class="b bL" x="15.07" y="0" width="0.86" height="19"/>
<rect class="b bL" x="16.07" y="0" width="0.86" height="26"/>
<rect class="b bL" x="17.07" y="0" width="0.86" height="15"/>
<rect class="b bM" x="18.07" y="0" width="0.86" height="26"/>
<rect class="b bM" x="19.07" y="0" width="0.86" height="42"/>
<rect class="b bD" x="20.07" y="0" width="0.86" height="39"/>
<rect class="b bD" x="21.07" y="0" width="0.86" height="37"/>
<rect class="b bD" x="22.07" y="0" width="0.86" height="34"/>
<rect class="b bD" x="23.07" y="0" width="0.86" height="18"/>
<rect class="b bD" x="24.07" y="0" width="0.86" height="26"/>
<rect class="b bD" x="25.07" y="0" width="0.86" height="1"/>
</g>
<g clip-path="url(#c3)">
<text class="lw" x="280" y="2180.9">2</text>
<text class="lw" x="306" y="2174.3">3</text>
<text class="lw" x="332.1" y="2161">5</text>
<text class="lw" x="358.2" y="2187.6">1</text>
<text class="lw" x="384.3" y="2161">5</text>
<text class="lw" x="410.4" y="2161">5</text>
<text class="lw" x="436.4" y="2187.6">1</text>
<text class="lw" x="462.5" y="2161">5</text>
<text class="lw" x="488.6" y="2154.4">6</text>
<text class="ld" x="514.7" y="2101.4">14</text>
<text class="ld" x="540.7" y="2127.9">10</text>
<text class="ld" x="566.8" y="2041.7">23</text>
<text class="ld" x="592.9" y="2068.2">19</text>
<text class="ld" x="619" y="2021.8">26</text>
<text class="ld" x="645" y="2094.7">15</text>
<text class="lw" x="671.1" y="2021.8">26</text>
<text class="lw" x="697.2" y="1915.7">42</text>
<text class="lw" x="723.3" y="1935.6">39</text>
<text class="lw" x="749.4" y="1948.8">37</text>
<text class="lw" x="775.4" y="1968.7">34</text>
<text class="lw" x="801.5" y="2074.8">18</text>
<text class="lw" x="827.6" y="2021.8">26</text>
<text class="lw" x="853.7" y="2187.6">1</text>
</g>
<line x1="188.7" y1="2168.2" x2="866.7" y2="2168.2" stroke="#333" stroke-width="3"/>
<text class="tk" x="204.2" y="2201" transform="rotate(-30 204.2 2201)">0</text>
<text class="tk" x="282.5" y="2201" transform="rotate(-30 282.5 2201)">6</text>
<text class="tk" x="360.7" y="2201" transform="rotate(-30 360.7 2201)">12</text>
<text class="tk" x="438.9" y="2201" transform="rotate(-30 438.9 2201)">18</text>
<text class="tk" x="517.2" y="2201" transform="rotate(-30 517.2 2201)">24</text>
<text class="tk" x="595.4" y="2201" transform="rotate(-30 595.4 2201)">30</text>
<text class="tk" x="673.6" y="2201" transform="rotate(-30 673.6 2201)">36</text>
<text class="tk" x="751.9" y="2201" transform="rotate(-30 751.9 2201)">42</text>
<text class="tk" x="830.1" y="2201" transform="rotate(-30 830.1 2201)">48</text>
<text class="ax" x="527.7" y="2235">Mark ( /50 )</text>
<text class="ax" x="134.9" y="1969.3" transform="rotate(-90 134.9 1969.3)">Frequency ( /363 )</text>

<!-- ============ Chart 4 ============ -->
<text class="ct" x="977.3" y="1759">Exam (contributes 50 %) - avg 29.6 / 50, stddev 8.2</text>
<rect x="978.5" y="1770.3" width="679" height="397.9" fill="#ededed"/>
<line class="gm" x1="978.5" y1="2118.5" x2="1657.5" y2="2118.5"/>
<line class="gM" x1="978.5" y1="2068.7" x2="1657.5" y2="2068.7"/>
<line class="gm" x1="978.5" y1="2019" x2="1657.5" y2="2019"/>
<line class="gM" x1="978.5" y1="1969.2" x2="1657.5" y2="1969.2"/>
<line class="gm" x1="978.5" y1="1919.5" x2="1657.5" y2="1919.5"/>
<line class="gM" x1="978.5" y1="1869.8" x2="1657.5" y2="1869.8"/>
<line class="gm" x1="978.5" y1="1820" x2="1657.5" y2="1820"/>
<line class="gM" x1="978.5" y1="1770.3" x2="1657.5" y2="1770.3"/>
<g transform="translate(978.5 2168.2) scale(26.11 -9.9475)">
<rect class="b bR" x="0.07" y="0" width="0.86" height="0.2"/>
<rect class="b bO" x="1.07" y="0" width="0.86" height="1"/>
<rect class="b bO" x="2.07" y="0" width="0.86" height="1"/>
<rect class="b bO" x="3.07" y="0" width="0.86" height="0.2"/>
<rect class="b bO" x="4.07" y="0" width="0.86" height="3"/>
<rect class="b bO" x="5.07" y="0" width="0.86" height="1"/>
<rect class="b bO" x="6.07" y="0" width="0.86" height="11"/>
<rect class="b bO" x="7.07" y="0" width="0.86" height="4"/>
<rect class="b bO" x="8.07" y="0" width="0.86" height="13"/>
<rect class="b bO" x="9.07" y="0" width="0.86" height="10"/>
<rect class="b bO" x="10.07" y="0" width="0.86" height="12"/>
<rect class="b bO" x="11.07" y="0" width="0.86" height="17"/>
<rect class="b bT" x="12.07" y="0" width="0.86" height="19"/>
<rect class="b bY" x="13.07" y="0" width="0.86" height="28"/>
<rect class="b bY" x="14.07" y="0" width="0.86" height="31"/>
<rect class="b bL" x="15.07" y="0" width="0.86" height="39"/>
<rect class="b bL" x="16.07" y="0" width="0.86" height="40"/>
<rect class="b bL" x="17.07" y="0" width="0.86" height="37"/>
<rect class="b bM" x="18.07" y="0" width="0.86" height="31"/>
<rect class="b bM" x="19.07" y="0" width="0.86" height="21"/>
<rect class="b bD" x="20.07" y="0" width="0.86" height="10"/>
<rect class="b bD" x="21.07" y="0" width="0.86" height="7"/>
<rect class="b bD" x="22.07" y="0" width="0.86" height="3"/>
<rect class="b bD" x="23.07" y="0" width="0.86" height="5"/>
<rect class="b bD" x="24.07" y="0" width="0.86" height="2"/>
<rect class="b bD" x="25.07" y="0" width="0.86" height="0.2"/>
</g>
<g clip-path="url(#c4)">
<text class="lw" x="1017.7" y="2184.3">1</text>
<text class="lw" x="1043.8" y="2184.3">1</text>
<text class="lw" x="1096" y="2164.4">3</text>
<text class="lw" x="1122.1" y="2184.3">1</text>
<text class="lw" x="1148.2" y="2084.8">11</text>
<text class="lw" x="1174.3" y="2154.4">4</text>
<text class="lw" x="1200.4" y="2064.9">13</text>
<text class="lw" x="1226.5" y="2094.7">10</text>
<text class="lw" x="1252.7" y="2074.8">12</text>
<text class="lw" x="1278.8" y="2025.1">17</text>
<text class="ld" x="1304.9" y="2005.2">19</text>
<text class="ld" x="1331" y="1915.7">28</text>
<text class="ld" x="1357.1" y="1885.8">31</text>
<text class="ld" x="1383.2" y="1806.2">39</text>
<text class="ld" x="1409.3" y="1796.3">40</text>
<text class="ld" x="1435.4" y="1826.1">37</text>
<text class="lw" x="1461.5" y="1885.8">31</text>
<text class="lw" x="1487.6" y="1985.3">21</text>
<text class="lw" x="1513.8" y="2094.7">10</text>
<text class="lw" x="1539.9" y="2124.6">7</text>
<text class="lw" x="1566" y="2164.4">3</text>
<text class="lw" x="1592.1" y="2144.5">5</text>
<text class="lw" x="1618.2" y="2174.3">2</text>
</g>
<line x1="978.5" y1="2168.2" x2="1657.5" y2="2168.2" stroke="#333" stroke-width="3"/>
<text class="tk" x="994.1" y="2201" transform="rotate(-30 994.1 2201)">0</text>
<text class="tk" x="1072.4" y="2201" transform="rotate(-30 1072.4 2201)">6</text>
<text class="tk" x="1150.7" y="2201" transform="rotate(-30 1150.7 2201)">12</text>
<text class="tk" x="1229" y="2201" transform="rotate(-30 1229 2201)">18</text>
<text class="tk" x="1307.4" y="2201" transform="rotate(-30 1307.4 2201)">24</text>
<text class="tk" x="1385.7" y="2201" transform="rotate(-30 1385.7 2201)">30</text>
<text class="tk" x="1464" y="2201" transform="rotate(-30 1464 2201)">36</text>
<text class="tk" x="1542.4" y="2201" transform="rotate(-30 1542.4 2201)">42</text>
<text class="tk" x="1620.7" y="2201" transform="rotate(-30 1620.7 2201)">48</text>
<text class="ax" x="1318" y="2235">Mark ( /50 )</text>
<text class="ax" x="924.7" y="1969.3" transform="rotate(-90 924.7 1969.3)">Frequency ( /346 )</text>

<!-- Screenshot tooltip -->
<rect x="953" y="2183" width="202" height="55" rx="10" fill="#d8d8d8" opacity="0.6"/>
<rect x="954.5" y="2183.5" width="199" height="52.5" rx="9" fill="#e7e7e7" stroke="#d2d2d2" stroke-width="1"/>
<polygon points="1040,2235.5 1066,2235.5 1053,2246" fill="#e7e7e7"/>
<text x="980" y="2220" style="font-size:28px;fill:#1d1d1d">Screenshot</text>
</svg>
</body>
</html>
